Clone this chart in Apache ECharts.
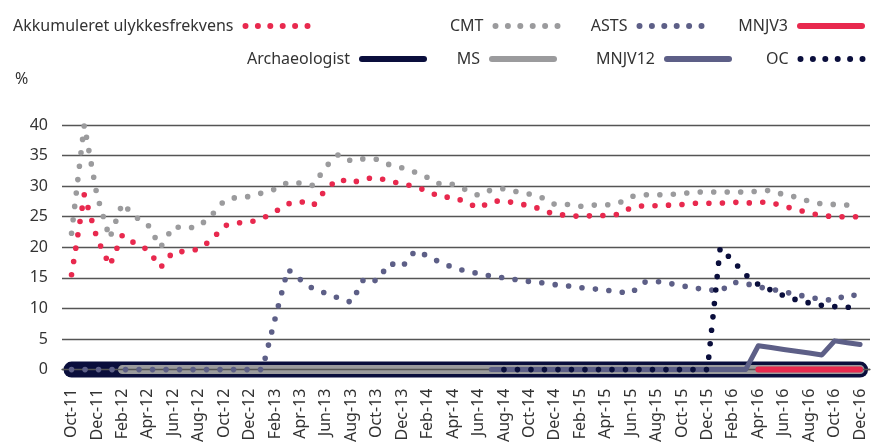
<!DOCTYPE html>
<html>
<head>
<meta charset="utf-8">
<script src="https://cdn.jsdelivr.net/npm/echarts@6/dist/echarts.min.js"></script>
<style>
  html, body { margin: 0; padding: 0; background: #fff; }
  #chart { width: 873px; height: 445px; }
</style>
</head>
<body>
<div id="chart"></div>
<script>
// month index 0 = Oct-11 ... 62 = Dec-16, labels every second month
const tickLabels = ['Oct-11', 'Dec-11', 'Feb-12', 'Apr-12', 'Jun-12', 'Aug-12', 'Oct-12', 'Dec-12',
  'Feb-13', 'Apr-13', 'Jun-13', 'Aug-13', 'Oct-13', 'Dec-13', 'Feb-14', 'Apr-14', 'Jun-14', 'Aug-14',
  'Oct-14', 'Dec-14', 'Feb-15', 'Apr-15', 'Jun-15', 'Aug-15', 'Oct-15', 'Dec-15', 'Feb-16', 'Apr-16',
  'Jun-16', 'Aug-16', 'Oct-16', 'Dec-16'];

const akkumuleret = [15.5, 28.6, 21.5, 17.0, 22.0, 20.6, 19.6, 16.7, 19.3, 19.3, 19.7, 21.2, 23.5, 24.0,
  24.1, 24.7, 25.8, 27.1, 27.5, 26.8, 29.5, 31.2, 30.5, 31.2, 31.4, 30.8, 30.4, 29.9, 29.2, 28.2, 28.2,
  27.4, 26.4, 27.5, 27.6, 27.2, 26.8, 26.2, 25.3, 25.3, 25.0, 25.2, 25.2, 25.4, 26.5, 26.8, 26.8, 26.9,
  27.0, 27.2, 27.2, 27.2, 27.4, 27.2, 27.4, 27.3, 26.7, 26.2, 25.6, 25.2, 25.0, 25.0, 25.0];

const cmt = [22.3, 40.0, 28.5, 21.5, 27.2, 25.0, 23.7, 20.0, 23.4, 23.1, 23.4, 25.2, 27.6, 28.2, 28.3,
  28.9, 29.5, 30.6, 30.5, 30.1, 33.2, 35.2, 34.1, 34.5, 34.4, 33.5, 33.0, 32.3, 31.4, 30.3, 30.3, 29.4,
  28.5, 29.4, 29.6, 29.1, 28.7, 28.1, 27.0, 27.0, 26.7, 26.9, 26.9, 27.2, 28.3, 28.6, 28.6, 28.6, 28.8,
  29.0, 29.1, 29.0, 29.1, 29.0, 29.2, 29.3, 28.6, 28.2, 27.5, 27.1, 27.0, 26.9, null];

const asts = [0, 0, 0, 0, 0, 0, 0, 0, 0, 0, 0, 0, 0, 0, 0, 0, 8.3, 16.4, 14.7, 13.2, 12.5, 11.7, 11.0,
  14.9, 14.5, 17.4, 16.8, 19.4, 18.6, 17.5, 16.7, 16.1, 15.7, 15.3, 15.0, 14.7, 14.4, 14.2, 13.9, 13.7,
  13.4, 13.2, 13.0, 12.7, 12.5, 14.3, 14.4, 14.1, 13.7, 13.3, 13.1, 12.8, 14.3, 14.1, 13.5, 13.2, 12.7,
  12.3, 11.8, 11.5, 11.3, 12.3, 12.0];

// series that start later: first month index + values
const ocStart = 34;
const oc = [0, 0, 0, 0, 0, 0, 0, 0, 0, 0, 0, 0, 0, 0, 0, 0, 0, 19.9, 17.8, 15.5, 13.9, 13.0, 12.1, 11.4,
  10.9, 10.5, 10.3, 10.2, 10.1];
const mnjv12Start = 33;
const mnjv12 = [0, 0, 0, 0, 0, 0, 0, 0, 0, 0, 0, 0, 0, 0, 0, 0, 0, 0, 0, 0, 0, 3.9, 3.6, 3.3, 3.0, 2.7,
  2.4, 4.7, 4.4, 4.1];
const mnjv3Start = 54;
const mnjv3 = [0, 0, 0, 0, 0, 0, 0, 0, 0];
const archStart = 0;
const archaeologist = new Array(63).fill(0);
const msStart = 4;
const ms = new Array(59).fill(0);

const yTicks = [0, 5, 10, 15, 20, 25, 30, 35, 40];

const font = 'Noto Sans';
const red = '#E8294E';
const grey = '#9B9B9D';
const purple = '#5D5F87';
const navy = '#0A0E3C';

function pts(arr, start) {
  const out = [];
  arr.forEach(function (v, i) {
    if (v != null) out.push([start + i, v]);
  });
  return out;
}

function dotted(name, color, data, z) {
  return {
    name: name, type: 'line', data: data, z: z, clip: false,
    symbol: 'none', showSymbol: false, silent: true,
    lineStyle: { color: color, width: 5.6, type: [0, 13.5], cap: 'round' },
    itemStyle: { color: color }
  };
}
function solid(name, color, width, data, z) {
  return {
    name: name, type: 'line', data: data, z: z, clip: false,
    symbol: 'none', showSymbol: false, silent: true,
    lineStyle: { color: color, width: width, cap: 'round', join: 'round' },
    itemStyle: { color: color }
  };
}

// legend items placed one by one (icon on the right of the text)
const legendItems = [
  { name: 'Akkumuleret ulykkesfrekvens', right: 562.5, top: 18, dots: true },
  { name: 'CMT', right: 312.5, top: 18, dots: true },
  { name: 'ASTS', right: 168.5, top: 18, dots: true },
  { name: 'MNJV3', right: 8, top: 18, dots: false },
  { name: 'Archaeologist', right: 446, top: 51, dots: false },
  { name: 'MS', right: 316, top: 51, dots: false },
  { name: 'MNJV12', right: 141, top: 51, dots: false },
  { name: 'OC', right: 7.5, top: 51, dots: true }
];

const myChart = echarts.init(document.getElementById('chart'));

const option = {
  animation: false,
  backgroundColor: '#fff',
  title: {
    text: '%',
    left: 10,
    top: 66,
    textStyle: { fontFamily: font, fontSize: 16, fontWeight: 'normal', color: '#333' }
  },
  legend: legendItems.map(function (it) {
    return {
      data: [it.name],
      right: it.right,
      top: it.top,
      padding: 0,
      itemWidth: 62,
      itemHeight: 14,
      align: 'right',
      selectedMode: false,
      itemStyle: { opacity: 0 },
      lineStyle: it.dots
        ? { width: 6, type: [0, 12.4], cap: 'round' }
        : { width: 6, type: 'solid', cap: 'round' },
      textStyle: { fontFamily: font, fontSize: 16, color: '#333', padding: [0, 7, 0, 0] }
    };
  }),
  grid: {
    left: 62,
    right: 3,
    top: 125,
    bottom: 73.3
  },
  xAxis: {
    type: 'value',
    min: -0.75,
    max: 62.78,
    z: 3,
    axisLine: { show: true, lineStyle: { color: '#555', width: 1.3 } },
    axisTick: { show: false },
    splitLine: { show: false },
    axisLabel: {
      customValues: tickLabels.map(function (_, i) { return i * 2; }),
      formatter: function (v) { return tickLabels[v / 2]; },
      rotate: 90,
      margin: 19,
      fontFamily: font,
      fontSize: 16,
      color: '#333'
    }
  },
  yAxis: {
    type: 'value',
    min: yTicks[0],
    max: yTicks[yTicks.length - 1],
    interval: 5,
    axisLine: { show: false },
    axisTick: { show: false },
    splitLine: { lineStyle: { color: '#555', width: 1.3 } },
    axisLabel: { margin: 14, fontFamily: font, fontSize: 16, color: '#333' }
  },
  series: [
    solid('Archaeologist', navy, 16, pts(archaeologist, archStart), 1),
    solid('MS', grey, 9, pts(ms, msStart), 2),
    solid('MNJV12', purple, 5, pts(mnjv12, mnjv12Start), 4),
    solid('MNJV3', red, 6, pts(mnjv3, mnjv3Start), 5),
    dotted('CMT', grey, pts(cmt, 0), 6),
    dotted('Akkumuleret ulykkesfrekvens', red, pts(akkumuleret, 0), 7),
    dotted('ASTS', purple, pts(asts, 0), 8),
    dotted('OC', navy, pts(oc, ocStart), 9)
  ]
};

myChart.setOption(option);
</script>
</body>
</html>
